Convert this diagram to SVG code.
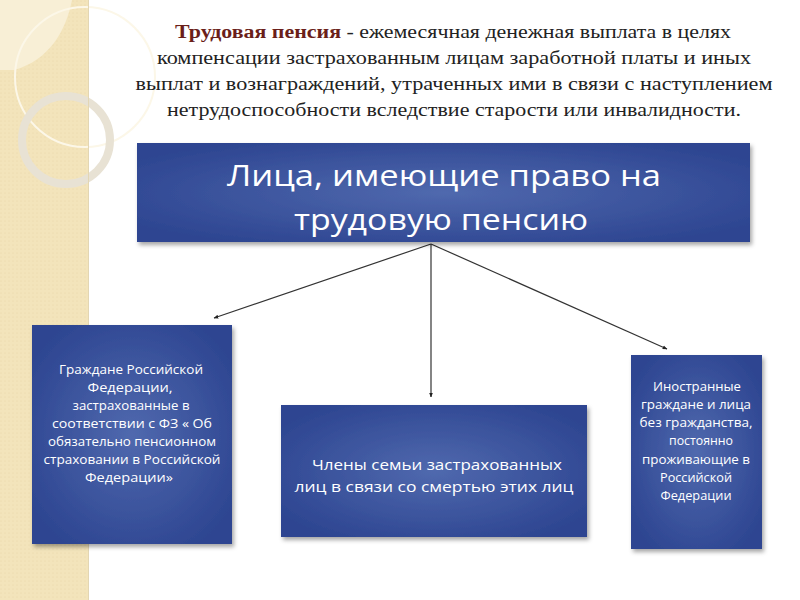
<svg xmlns="http://www.w3.org/2000/svg" width="800" height="600" viewBox="0 0 800 600">
<style>
.t{font-family:"Liberation Serif","Times New Roman",serif;font-size:18.5px;fill:#222;text-anchor:middle}
.b{font-weight:bold;fill:#6b1f1a}
.bx{font-family:"Open Sans","Lato",sans-serif;fill:#fff;text-anchor:middle}
.big{font-size:30px}
.sm{font-size:12.5px}
.md{font-size:14.5px}
.conn{stroke:#333;stroke-width:1.2;fill:none;marker-end:url(#ah)}
</style>
<defs>
<radialGradient id="g" cx="50%" cy="50%" r="60%">
<stop offset="0" stop-color="#5069ae"/>
<stop offset="1" stop-color="#2d4591"/>
</radialGradient>
<filter id="sh" x="-10%" y="-10%" width="125%" height="125%">
<feDropShadow dx="2" dy="3" stdDeviation="2" flood-color="#000" flood-opacity="0.35"/>
</filter>
<marker id="ah" viewBox="0 0 10 10" refX="9" refY="5" markerWidth="4" markerHeight="4" orient="auto">
<path d="M0,1 L10,5 L0,9 z" fill="#222"/>
</marker>
<pattern id="tex" width="4" height="4" patternUnits="userSpaceOnUse">
<rect width="4" height="4" fill="#f3e4bb"/>
<circle cx="1" cy="1" r="0.6" fill="#e9d8a8"/>
</pattern>
</defs>
<rect width="800" height="600" fill="#fff"/>
<g id="decor">
<rect x="0" y="0" width="88" height="600" fill="url(#tex)"/>
<path d="M0,0 L72,0 C66,30 50,60 14,70 L0,70 Z" fill="#f8efd6"/>
<circle cx="85" cy="77" r="70" fill="none" stroke="#fcf7e8" stroke-width="2"/>
<circle cx="66" cy="140" r="44" fill="none" stroke="#e8e2d4" stroke-width="8"/>
<line x1="88.5" y1="0" x2="88.5" y2="600" stroke="#e3d6b3" stroke-width="1"/>
</g>
<g id="title">
<text class="t" x="453" y="38" textLength="556" lengthAdjust="spacingAndGlyphs"><tspan class="b">Трудовая пенсия</tspan> - ежемесячная денежная выплата в целях</text>
<text class="t" x="454" y="64" textLength="594" lengthAdjust="spacingAndGlyphs">компенсации застрахованным лицам заработной платы и иных</text>
<text class="t" x="454" y="90" textLength="637" lengthAdjust="spacingAndGlyphs">выплат и вознаграждений, утраченных ими в связи с наступлением</text>
<text class="t" x="454" y="116" textLength="574" lengthAdjust="spacingAndGlyphs">нетрудоспособности вследствие старости или инвалидности.</text>
</g>
<g id="connectors">
<line class="conn" x1="431" y1="244" x2="214" y2="318"/>
<line class="conn" x1="431" y1="244" x2="431" y2="397"/>
<line class="conn" x1="431" y1="244" x2="667" y2="349"/>
</g>
<g id="root">
<rect x="137" y="143" width="613" height="99" fill="url(#g)" filter="url(#sh)"/>
<text class="bx big" x="444" y="186" textLength="434" lengthAdjust="spacingAndGlyphs">Лица, имеющие право на</text>
<text class="bx big" x="441" y="230" textLength="294" lengthAdjust="spacingAndGlyphs">трудовую пенсию</text>
</g>
<g id="citizens">
<rect x="32" y="325" width="200" height="219" fill="url(#g)" filter="url(#sh)"/>
<text class="bx sm" x="131" y="374" textLength="144" lengthAdjust="spacingAndGlyphs">Граждане Российской</text>
<text class="bx sm" x="130" y="392" textLength="85" lengthAdjust="spacingAndGlyphs">Федерации,</text>
<text class="bx sm" x="131" y="410" textLength="117" lengthAdjust="spacingAndGlyphs">застрахованные в</text>
<text class="bx sm" x="132" y="428" textLength="160" lengthAdjust="spacingAndGlyphs">соответствии с ФЗ « Об</text>
<text class="bx sm" x="132" y="446" textLength="168" lengthAdjust="spacingAndGlyphs">обязательно пенсионном</text>
<text class="bx sm" x="132" y="464" textLength="177" lengthAdjust="spacingAndGlyphs">страховании в Российской</text>
<text class="bx sm" x="129" y="482" textLength="88" lengthAdjust="spacingAndGlyphs">Федерации»</text>
</g>
<g id="family">
<rect x="281" y="405" width="306" height="132" fill="url(#g)" filter="url(#sh)"/>
<text class="bx md" x="437" y="470" textLength="250" lengthAdjust="spacingAndGlyphs">Члены семьи застрахованных</text>
<text class="bx md" x="434" y="492" textLength="279" lengthAdjust="spacingAndGlyphs">лиц в связи со смертью этих лиц</text>
</g>
<g id="foreigners">
<rect x="631" y="355" width="131" height="194" fill="url(#g)" filter="url(#sh)"/>
<text class="bx sm" x="697" y="391" textLength="88" lengthAdjust="spacingAndGlyphs">Иностранные</text>
<text class="bx sm" x="696" y="409" textLength="110" lengthAdjust="spacingAndGlyphs">граждане и лица</text>
<text class="bx sm" x="696" y="427" textLength="113" lengthAdjust="spacingAndGlyphs">без гражданства,</text>
<text class="bx sm" x="701" y="445" textLength="64" lengthAdjust="spacingAndGlyphs">постоянно</text>
<text class="bx sm" x="696" y="464" textLength="108" lengthAdjust="spacingAndGlyphs">проживающие в</text>
<text class="bx sm" x="696" y="482" textLength="72" lengthAdjust="spacingAndGlyphs">Российской</text>
<text class="bx sm" x="696" y="500" textLength="71" lengthAdjust="spacingAndGlyphs">Федерации</text>
</g>
</svg>
